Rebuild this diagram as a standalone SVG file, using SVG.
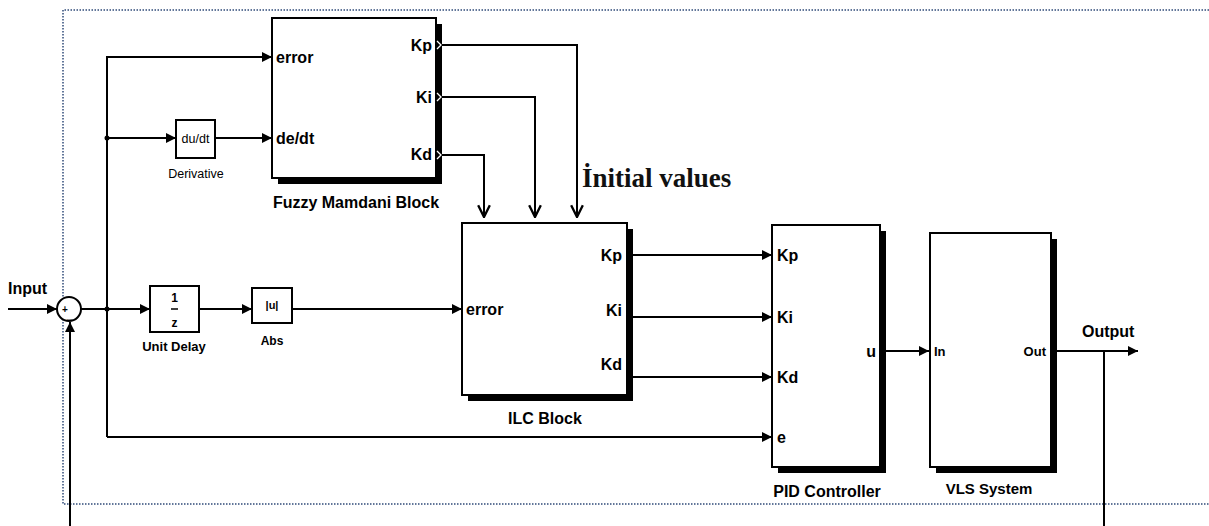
<svg xmlns="http://www.w3.org/2000/svg" width="1209" height="526" viewBox="0 0 1209 526">
<style>
.blk{fill:#fff;stroke:#000;stroke-width:2}
.shd{fill:#000}
.ln{fill:none;stroke:#000;stroke-width:2}
.t{font-family:"Liberation Sans",Arial,sans-serif;font-weight:bold;fill:#000}
.port{font-size:16px}
.cap{font-size:16px}
.small{font-size:12px}
</style>
<defs>
<marker id="arr" viewBox="0 0 10 10" refX="10" refY="5" markerWidth="12" markerHeight="10" markerUnits="userSpaceOnUse" orient="auto">
<path d="M0,0 L10,5 L0,10 z" fill="#000"/>
</marker>
<marker id="open" viewBox="0 0 12 12" refX="11" refY="6" markerWidth="14" markerHeight="14" markerUnits="userSpaceOnUse" orient="auto">
<path d="M1,1 L11,6 L1,11" fill="none" stroke="#000" stroke-width="2"/>
</marker>
</defs>
<rect x="0" y="0" width="1209" height="526" fill="#fff"/>
<!-- dotted border -->
<path d="M1215,10 L63,10 L63,504 L1215,504" fill="none" stroke="#2f4a78" stroke-width="1.5" stroke-dasharray="1.5,1.5"/>

<g id="connectors">
<path class="ln" d="M8,309 L57,309" marker-end="url(#arr)"/>
<path class="ln" d="M81,309 L150,309" marker-end="url(#arr)"/>
<path class="ln" d="M107,437 L107,57 L272,57" marker-end="url(#arr)"/>
<path class="ln" d="M107,138 L176,138" marker-end="url(#arr)"/>
<path class="ln" d="M215,138 L272,138" marker-end="url(#arr)"/>
<circle cx="107" cy="309" r="2.5" fill="#000"/>
<circle cx="107" cy="138" r="2.5" fill="#000"/>
<path class="ln" d="M199,309 L252,309" marker-end="url(#arr)"/>
<path class="ln" d="M292,309 L462,309" marker-end="url(#arr)"/>
<path class="ln" d="M107,437 L772,437" marker-end="url(#arr)"/>
<path class="ln" d="M442,45 L577,45 L577,217" marker-end="url(#open)"/>
<path class="ln" d="M442,97 L535,97 L535,217" marker-end="url(#open)"/>
<path class="ln" d="M442,155 L484,155 L484,217" marker-end="url(#open)"/>
<path class="ln" d="M633,255 L772,255" marker-end="url(#arr)"/>
<path class="ln" d="M633,317 L772,317" marker-end="url(#arr)"/>
<path class="ln" d="M633,377 L772,377" marker-end="url(#arr)"/>
<path class="ln" d="M886,351 L929,351" marker-end="url(#arr)"/>
<path class="ln" d="M1057,351 L1138,351" marker-end="url(#arr)"/>
<path class="ln" d="M1104,351 L1104,532 L70,532 L70,322" marker-end="url(#arr)"/>
</g>

<text class="t" x="8" y="294" font-size="16">Input</text>
<text class="t" x="1082" y="337" font-size="16">Output</text>

<g id="sum">
<circle cx="69" cy="309" r="12" fill="#fff" stroke="#000" stroke-width="2"/>
<text class="t" x="62" y="313" font-size="10">+</text>
<text class="t" x="67" y="318" font-size="10">_</text>
</g>

<g id="derivative">
<rect class="blk" x="176" y="120" width="39" height="38"/>
<text x="195.5" y="143" text-anchor="middle" font-family="Liberation Sans,Arial,sans-serif" font-size="12.5" fill="#000">du/dt</text>
<text x="196" y="178" text-anchor="middle" font-family="Liberation Sans,Arial,sans-serif" font-size="12.5" fill="#000">Derivative</text>
</g>

<g id="fuzzy">
<rect class="shd" x="278" y="24" width="164" height="160"/>
<rect class="blk" x="272" y="18" width="164" height="160"/>
<text class="t port" x="276" y="63">error</text>
<text class="t port" x="276" y="144">de/dt</text>
<text class="t port" x="432" y="51" text-anchor="end">Kp</text>
<text class="t port" x="432" y="103" text-anchor="end">Ki</text>
<text class="t port" x="432" y="160" text-anchor="end">Kd</text>
<path d="M437,41 L441,45 L437,49 M437,93 L441,97 L437,101 M437,151 L441,155 L437,159" fill="none" stroke="#fff" stroke-width="1.3"/>
<text class="t cap" x="356" y="208" text-anchor="middle">Fuzzy Mamdani Block</text>
</g>

<text x="582" y="187" font-family="Liberation Serif,Times New Roman,serif" font-weight="bold" font-size="27" fill="#111">İnitial values</text>

<g id="unitdelay">
<rect class="blk" x="150" y="286" width="49" height="46"/>
<text class="t" x="174.5" y="302" text-anchor="middle" font-size="12">1</text>
<line x1="171" y1="309" x2="178" y2="309" stroke="#000" stroke-width="1.5"/>
<text class="t" x="174.5" y="327" text-anchor="middle" font-size="12">z</text>
<text class="t" x="174" y="351" text-anchor="middle" font-size="13">Unit Delay</text>
</g>

<g id="abs">
<rect class="blk" x="252" y="288" width="40" height="35"/>
<text class="t" x="272" y="309" text-anchor="middle" font-size="11">|u|</text>
<text class="t" x="272" y="345" text-anchor="middle" font-size="12">Abs</text>
</g>

<g id="ilc">
<rect class="shd" x="468" y="229" width="165" height="172"/>
<rect class="blk" x="462" y="223" width="165" height="172"/>
<text class="t port" x="466" y="315">error</text>
<text class="t port" x="622" y="261" text-anchor="end">Kp</text>
<text class="t port" x="622" y="316" text-anchor="end">Ki</text>
<text class="t port" x="622" y="370" text-anchor="end">Kd</text>
<text class="t cap" x="545" y="424" text-anchor="middle">ILC Block</text>
</g>

<g id="pid">
<rect class="shd" x="778" y="231" width="108" height="242"/>
<rect class="blk" x="772" y="225" width="108" height="242"/>
<text class="t port" x="777" y="261">Kp</text>
<text class="t port" x="777" y="323">Ki</text>
<text class="t port" x="777" y="383">Kd</text>
<text class="t port" x="777" y="443">e</text>
<text class="t port" x="876" y="357" text-anchor="end">u</text>
<text class="t cap" x="827" y="497" text-anchor="middle">PID Controller</text>
</g>

<g id="vls">
<rect class="shd" x="936" y="239" width="121" height="234"/>
<rect class="blk" x="930" y="233" width="121" height="234"/>
<text class="t" x="934" y="356" font-size="13">In</text>
<text class="t" x="1046" y="356" font-size="13" text-anchor="end">Out</text>
<text class="t" x="989" y="494" text-anchor="middle" font-size="15">VLS System</text>
</g>
</svg>
